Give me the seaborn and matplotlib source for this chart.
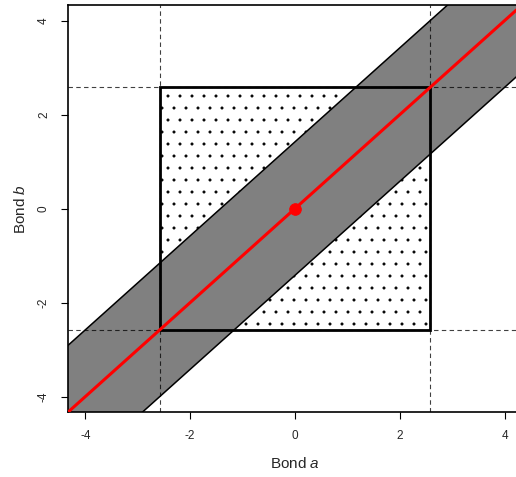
import matplotlib
matplotlib.use("Agg")
import matplotlib.pyplot as plt
import numpy as np
import pandas as pd
import seaborn as sns
from matplotlib.patches import Rectangle

# values
axis_limit = 4.33
crit = 2.58          # dashed lines / square half-width
band_half = 1.42     # vertical half-width of the grey band around b = a
centre = [0.0]
ticks = [-4, -2, 0, 2, 4]

# rendered at 72 dpi so the dot hatch comes out finer; k scales pt sizes
DPI = 72
k = 100 / DPI

sns.set_style("white")
plt.rcParams["font.family"] = ["Liberation Sans", "DejaVu Sans"]
plt.rcParams["mathtext.fontset"] = "custom"
plt.rcParams["mathtext.it"] = "Liberation Sans:italic"
plt.rcParams["mathtext.rm"] = "Liberation Sans"
plt.rcParams["hatch.linewidth"] = 0.5

fig = plt.figure(figsize=(516 / DPI, 477 / DPI), dpi=DPI)
ax = fig.add_axes([0.1318, 0.136, 0.8798, 0.8535])

# dotted square
sq = Rectangle((-crit, -crit), 2 * crit, 2 * crit, facecolor="white",
               edgecolor="black", hatch=".", lw=0, zorder=1)
ax.add_patch(sq)

# grey band
diag = pd.DataFrame({"a": [-axis_limit - 2, axis_limit + 2]})
diag["b"] = diag["a"]
ax.fill_between(diag["a"], diag["b"] - band_half, diag["b"] + band_half,
                facecolor="#808080", edgecolor="black", lw=1.1 * k, zorder=2)

# square outline on top
ax.add_patch(Rectangle((-crit, -crit), 2 * crit, 2 * crit, fill=False,
                       edgecolor="black", lw=2 * k, zorder=3))

# dashed critical lines
for v in (-crit, crit):
    ax.axvline(v, color="black", ls=(0, (4, 3)), lw=0.8 * k, zorder=4, alpha=0.75)
    ax.axhline(v, color="black", ls=(0, (4, 3)), lw=0.8 * k, zorder=4, alpha=0.75)

# red diagonal and centre point
sns.lineplot(data=diag, x="a", y="b", color="red", lw=2.2 * k, ax=ax, zorder=5)
sns.scatterplot(x=centre, y=centre, color="red", s=70 * k * k, edgecolor="red",
                ax=ax, zorder=6)

ax.set_xlim(-axis_limit, axis_limit)
ax.set_ylim(-axis_limit, axis_limit)
ax.set_xticks(ticks)
ax.set_yticks(ticks)
ax.set_xticklabels([str(t) for t in ticks], fontsize=8.5 * k)
ax.set_yticklabels([str(t) for t in ticks], fontsize=8.5 * k, rotation=90,
                   va="center")
ax.tick_params(axis="both", which="both", direction="out", length=5 * k,
               width=0.8 * k, color="black", pad=8 * k, left=True, bottom=True)
ax.set_xlabel(r"Bond $\it{a}$", fontsize=11 * k, labelpad=10 * k)
ax.set_ylabel(r"Bond $\it{b}$", fontsize=11 * k, labelpad=7 * k)
for s in ax.spines.values():
    s.set_color("black")
    s.set_linewidth(1.2 * k)

fig.savefig("out.png", dpi=DPI)
